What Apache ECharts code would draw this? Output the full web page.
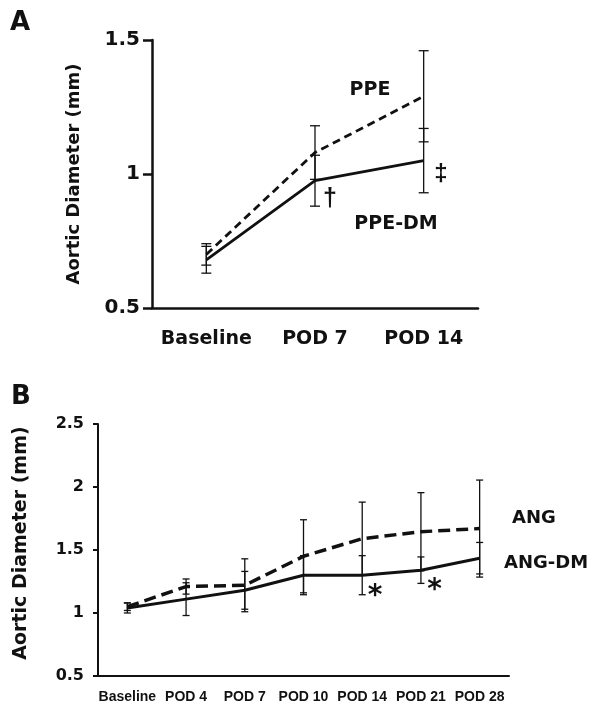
<!DOCTYPE html>
<html>
<head>
<meta charset="utf-8">
<style>html,body{margin:0;padding:0;background:#fff;}#c{width:600px;height:713px;}</style>
<script src="https://cdn.jsdelivr.net/npm/echarts@6/dist/echarts.min.js"></script>
</head>
<body>
<div id="c"></div>
<script>
// Panel A data
const catsA = ['Baseline', 'POD 7', 'POD 14'];
const ppe = [0.70, 1.08, 1.29];
const ppeErr = [0.04, 0.10, 0.17];
const ppeDm = [0.68, 0.975, 1.05];
const ppeDmErr = [0.05, 0.095, 0.12];
const ticksA = [0.5, 1, 1.5];

// Panel B data
const catsB = ['Baseline', 'POD 4', 'POD 7', 'POD 10', 'POD 14', 'POD 21', 'POD 28'];
const ang = [1.05, 1.21, 1.22, 1.45, 1.59, 1.645, 1.67];
const angErr = [0.03, 0.06, 0.21, 0.29, 0.29, 0.31, 0.385];
const angDm = [1.04, 1.11, 1.18, 1.30, 1.30, 1.34, 1.435];
const angDmErr = [0.04, 0.13, 0.15, 0.155, 0.155, 0.105, 0.125];
const ticksB = [0.5, 1, 1.5, 2, 2.5];

const FONT = 'DejaVu Sans';
const FONT2 = 'Liberation Sans';
const INK = '#111';

function errData(vals, errs) {
  return vals.map((v, i) => [i, v - errs[i], v + errs[i]]);
}
function errSeries(x, y, data, cap, w) {
  return {
    type: 'custom', xAxisIndex: x, yAxisIndex: y, data: data, z: 1,
    renderItem: function (params, api) {
      const i = api.value(0);
      const lo = api.coord([i, api.value(1)]);
      const hi = api.coord([i, api.value(2)]);
      const st = { stroke: INK, lineWidth: w };
      return {
        type: 'group', children: [
          { type: 'line', shape: { x1: lo[0], y1: lo[1], x2: hi[0], y2: hi[1] }, style: st },
          { type: 'line', shape: { x1: hi[0] - cap, y1: hi[1], x2: hi[0] + cap, y2: hi[1] }, style: st },
          { type: 'line', shape: { x1: lo[0] - cap, y1: lo[1], x2: lo[0] + cap, y2: lo[1] }, style: st }
        ]
      };
    }
  };
}
function yAx(grid, ticks, lw, tickLen, fs, margin, gap, nameFs, shiftUp) {
  return {
    type: 'value', gridIndex: grid,
    min: ticks[0], max: ticks[ticks.length - 1], interval: ticks[1] - ticks[0],
    name: 'Aortic Diameter (mm)', nameLocation: 'middle', nameRotate: 90, nameGap: gap,
    nameTextStyle: { fontFamily: FONT, fontWeight: 'bold', fontSize: nameFs, color: INK,
      padding: [0, 0, 0, shiftUp * 2] },
    axisLine: { show: true, lineStyle: { color: INK, width: lw } },
    axisTick: { show: true, length: tickLen, lineStyle: { color: INK, width: lw } },
    splitLine: { show: false },
    axisLabel: { fontFamily: FONT, fontWeight: 'bold', fontSize: fs, color: INK, margin: margin }
  };
}
function xAx(grid, cats, lw, font, fs, margin) {
  return {
    type: 'category', gridIndex: grid, data: cats, boundaryGap: true,
    axisLine: { show: true, lineStyle: { color: INK, width: lw } },
    axisTick: { show: false },
    splitLine: { show: false },
    axisLabel: { fontFamily: font, fontWeight: 'bold', fontSize: fs, color: INK, margin: margin, interval: 0 }
  };
}
function txt(s, x, y, fs, font) {
  return { type: 'text', x: x, y: y, style: { text: s, fontFamily: font || FONT, fontWeight: 'bold', fontSize: fs, fill: INK, align: 'center', verticalAlign: 'middle' } };
}

const chart = echarts.init(document.getElementById('c'), null, { renderer: 'canvas' });
chart.setOption({
  backgroundColor: '#fff',
  animation: false,
  grid: [
    { left: 152, top: 40, width: 326, height: 268 },
    { left: 98, top: 424, width: 411, height: 252 }
  ],
  xAxis: [xAx(0, catsA, 2.5, FONT, 19, 22), xAx(1, catsB, 2, FONT2, 14, 14)],
  yAxis: [yAx(0, ticksA, 2.5, 9, 20, 12, 69, 18, 0), yAx(1, ticksB, 2, 5, 16, 14, 67, 19, 7)],
  series: [
    errSeries(0, 0, errData(ppe, ppeErr), 5, 1.3),
    errSeries(0, 0, errData(ppeDm, ppeDmErr), 5, 1.3),
    { type: 'line', xAxisIndex: 0, yAxisIndex: 0, data: ppe, symbol: 'none', z: 3,
      lineStyle: { color: INK, width: 2.8, type: [8, 5] } },
    { type: 'line', xAxisIndex: 0, yAxisIndex: 0, data: ppeDm, symbol: 'none', z: 3,
      lineStyle: { color: INK, width: 2.8, type: 'solid' } },
    errSeries(1, 1, errData(ang, angErr), 3.5, 1.3),
    errSeries(1, 1, errData(angDm, angDmErr), 3.5, 1.3),
    { type: 'line', xAxisIndex: 1, yAxisIndex: 1, data: ang, symbol: 'none', z: 3,
      lineStyle: { color: INK, width: 3.5, type: [12, 6] } },
    { type: 'line', xAxisIndex: 1, yAxisIndex: 1, data: angDm, symbol: 'none', z: 3,
      lineStyle: { color: INK, width: 3, type: 'solid' } }
  ],
  graphic: [
    txt('A', 20, 23, 26),
    txt('B', 21, 397, 26),
    txt('PPE', 370, 90, 19),
    txt('PPE-DM', 396, 224, 19),
    txt('†', 330, 199, 25, FONT2),
    txt('‡', 441, 174, 24, FONT2),
    txt('ANG', 534, 518, 18),
    txt('ANG-DM', 546, 563, 18),
    txt('*', 375, 597, 28),
    txt('*', 434.5, 591, 28)
  ]
});
</script>
</body>
</html>
